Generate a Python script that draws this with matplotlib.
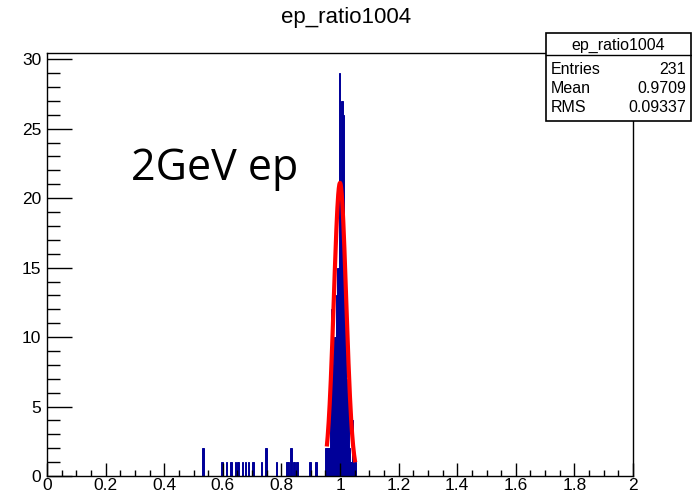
import numpy as np
import matplotlib
matplotlib.use("Agg")
import matplotlib.pyplot as plt
from matplotlib.ticker import MultipleLocator
from matplotlib.patches import Rectangle
from matplotlib.lines import Line2D

# histogram ep_ratio1004, 400 bins on [0, 2]
bin_width = 0.005
bin_lo = [0.530, 0.595, 0.610, 0.625, 0.640, 0.650, 0.665, 0.675, 0.685, 0.700,
          0.730, 0.745, 0.780, 0.815, 0.820, 0.830, 0.840, 0.850, 0.895, 0.915,
          0.950, 0.955, 0.960, 0.965, 0.970, 0.975, 0.980, 0.985, 0.990, 0.995,
          1.000, 1.005, 1.010, 1.015, 1.020, 1.025, 1.030, 1.035, 1.040, 1.045,
          1.050]
counts = [2, 1, 1, 1, 1, 1, 1, 1, 1, 1,
          1, 2, 1, 1, 1, 2, 1, 1, 1, 1,
          2, 2, 2, 7, 12, 8, 10, 13, 15, 29,
          21, 27, 26, 12, 7, 6, 2, 1, 4, 1,
          1]

# gaussian fit
fit_const = 21.1
fit_mean = 1.0
fit_sigma = 0.021
fit_range = (0.955, 1.052)

stats_title = "ep_ratio1004"
stats_rows = [("Entries", "231"), ("Mean", "0.9709"), ("RMS", "0.09337")]

plt.rcParams['font.family'] = ['Liberation Sans', 'DejaVu Sans']

fig = plt.figure(figsize=(6.92, 4.95), dpi=100)
ax = fig.add_axes([47/692, 1-476/495, 586/692, 423/495])

ax.bar(bin_lo, counts, width=bin_width, align='edge', color='#000099',
       edgecolor='#000099', linewidth=0.7)

xf = np.linspace(fit_range[0], fit_range[1], 200)
yf = fit_const * np.exp(-0.5 * ((xf - fit_mean) / fit_sigma) ** 2)
ax.plot(xf, yf, color='#ff0000', lw=3, solid_capstyle='butt')

ax.set_xlim(0, 2)
ax.set_ylim(0, 30.45)
ax.xaxis.set_major_locator(MultipleLocator(0.2))
ax.xaxis.set_minor_locator(MultipleLocator(0.05))
ax.yaxis.set_major_locator(MultipleLocator(5))
ax.yaxis.set_minor_locator(MultipleLocator(1))
ax.xaxis.set_major_formatter(plt.FuncFormatter(lambda v, p: '%g' % round(v, 2)))
ax.tick_params(axis='x', which='major', direction='in', length=9.5, width=1,
               labelsize=12.5, pad=1.5, top=False)
ax.tick_params(axis='x', which='minor', direction='in', length=4.5, width=1, top=False)
ax.tick_params(axis='y', which='major', direction='in', length=18, width=1,
               labelsize=12.5, pad=4, right=False)
ax.tick_params(axis='y', which='minor', direction='in', length=9, width=1, right=False)
for s in ax.spines.values():
    s.set_linewidth(1)

ax.text(0.287, 21.3, "2GeV ep", fontsize=31, family=['Open Sans', 'DejaVu Sans'],
        ha='left', va='baseline')

fig.text(0.5, 1-18/495, "ep_ratio1004", ha='center', va='center', fontsize=16)

# stats box
bx0, bx1 = 546/692, 691/692
by0, by1 = 1-121/495, 1-33/495
fig.patches.append(Rectangle((bx0, by0), bx1-bx0, by1-by0, transform=fig.transFigure,
                             facecolor='white', edgecolor='black', lw=1.2, zorder=5))
sep = 1-55/495
fig.lines.append(Line2D([bx0, bx1], [sep, sep], transform=fig.transFigure,
                        color='black', lw=1, zorder=6))
fig.text((bx0+bx1)/2, 1-45/495, stats_title, ha='center', va='center',
         fontsize=11.5, zorder=7)
for i, (k, v) in enumerate(stats_rows):
    yy = 1-(69 + 19.5*i)/495
    fig.text(551/692, yy, k, ha='left', va='center', fontsize=11.5, zorder=7)
    fig.text(686/692, yy, v, ha='right', va='center', fontsize=11.5, zorder=7)

fig.savefig("out.png", dpi=100)
